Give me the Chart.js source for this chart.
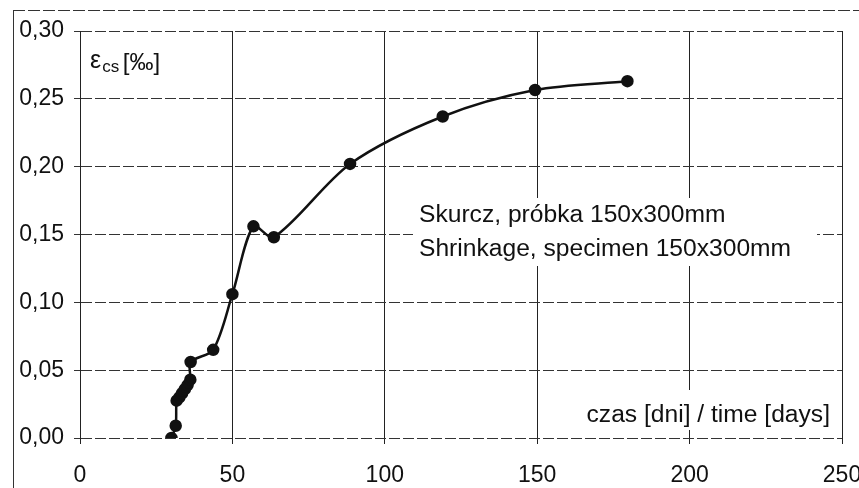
<!DOCTYPE html>
<html lang="pl">
<head>
    <meta charset="UTF-8">
    <title>Skurcz / Shrinkage</title>
    <style>
        html, body { margin: 0; padding: 0; background: #fff; }
        #wrap { width: 859px; height: 488px; position: relative; }
    </style>
</head>
<body>
    <div id="wrap"><canvas id="chart" width="859" height="488"></canvas></div>

    <script src="https://cdn.jsdelivr.net/npm/chart.js@4.4.9/dist/chart.umd.min.js"></script>
    <script>
        // time [days] and shrinkage strain [per mille]
        const days = [30.0, 31.4, 31.7, 32.6, 33.5, 34.4, 35.3, 36.2, 36.3, 43.7, 50.0, 56.9, 63.6, 88.6, 119.0, 149.3, 179.6];
        const strain = [0.000, 0.009, 0.0275, 0.030, 0.033, 0.036, 0.039, 0.043, 0.056, 0.065, 0.106, 0.156, 0.148, 0.202, 0.237, 0.2565, 0.263];

        const xTicks = [0, 50, 100, 150, 200, 250];
        const yTicks = [0, 0.05, 0.10, 0.15, 0.20, 0.25, 0.30];

        const yLabel = 'ε';
        const yLabelSub = 'cs';
        const yLabelUnit = ' [‰]';
        const noteLines = ['Skurcz, próbka 150x300mm', 'Shrinkage, specimen 150x300mm'];
        const xLabel = 'czas [dni] / time [days]';

        const FONT = '"Liberation Sans", Arial, sans-serif';
        const INK = '#111';

        // text in the scan is a bit wider than Arial, stretch it a little
        function stretchedText(ctx, text, x, y, size, align, sx) {
            ctx.save();
            ctx.font = size + 'px ' + FONT;
            const w = ctx.measureText(text).width * sx;
            const left = align === 'right' ? x - w : x;
            ctx.translate(left, y);
            ctx.scale(sx, 1);
            ctx.textAlign = 'left';
            ctx.textBaseline = 'alphabetic';
            ctx.fillStyle = INK;
            ctx.fillText(text, 0, 0);
            ctx.restore();
            return w;
        }

        const decorations = {
            id: 'decorations',
            afterDraw(chart) {
                const ctx = chart.ctx;
                const a = chart.chartArea;

                // outer frame of the scanned figure (top + left)
                ctx.save();
                ctx.strokeStyle = '#333';
                ctx.lineWidth = 1;
                ctx.setLineDash([12, 3]);
                ctx.beginPath();
                ctx.moveTo(13, 10.5);
                ctx.lineTo(859, 10.5);
                ctx.stroke();
                ctx.setLineDash([]);
                ctx.beginPath();
                ctx.moveTo(13.5, 10);
                ctx.lineTo(13.5, 488);
                ctx.stroke();
                ctx.restore();

                // axis label inside plot, top left
                ctx.save();
                ctx.fillStyle = INK;
                ctx.textBaseline = 'alphabetic';
                ctx.font = '25px ' + FONT;
                let x = a.left + 10;
                ctx.fillText(yLabel, x, a.top + 37);
                x += ctx.measureText(yLabel).width + 1;
                ctx.font = '17px ' + FONT;
                ctx.fillText(yLabelSub, x, a.top + 41);
                x += ctx.measureText(yLabelSub).width;
                ctx.font = '24px ' + FONT;
                ctx.fillText(yLabelUnit, x - 3, a.top + 39);
                ctx.restore();

                // white boxes behind the notes
                ctx.save();
                ctx.fillStyle = '#fff';
                ctx.fillRect(413, 198, 404, 68);
                ctx.fillRect(578, 390, 258, 40);
                ctx.restore();

                stretchedText(ctx, noteLines[0], 419, 222, 23, 'left', 1.07);
                stretchedText(ctx, noteLines[1], 419, 256, 23, 'left', 1.07);
                stretchedText(ctx, xLabel, a.right - 12, 422, 23, 'right', 1.07);
            }
        };

        const ctx = document.getElementById('chart').getContext('2d');
        new Chart(ctx, {
            type: 'scatter',
            data: {
                datasets: [{
                    data: days.map((d, i) => ({ x: d, y: strain[i] })),
                    showLine: true,
                    borderColor: INK,
                    backgroundColor: INK,
                    borderWidth: 2.5,
                    pointRadius: 5,
                    pointHoverRadius: 5,
                    tension: 0.3
                }]
            },
            options: {
                responsive: false,
                animation: false,
                layout: { padding: { left: 0, right: 17, top: 31, bottom: 0 } },
                plugins: {
                    legend: { display: false },
                    tooltip: { enabled: false }
                },
                scales: {
                    x: {
                        type: 'linear',
                        min: 0,
                        max: 250,
                        afterBuildTicks: s => { s.ticks = xTicks.map(v => ({ value: v })); },
                        afterFit: s => { s.height = 50; s.paddingLeft = 0; s.paddingRight = 0; },
                        grid: { color: '#222', lineWidth: 1, tickLength: 6 },
                        border: { display: false },
                        ticks: {
                            color: INK,
                            padding: 18,
                            maxRotation: 0,
                            font: { family: FONT, size: 23 },
                            callback: v => String(v)
                        }
                    },
                    y: {
                        min: 0,
                        max: 0.3,
                        afterBuildTicks: s => { s.ticks = yTicks.map(v => ({ value: v })); },
                        afterFit: s => { s.width = 80; s.paddingTop = 0; s.paddingBottom = 0; },
                        grid: { color: '#333', lineWidth: 1, tickLength: 6 },
                        border: { color: '#222', width: 1, dash: [11, 3] },
                        ticks: {
                            color: INK,
                            padding: 10,
                            font: { family: FONT, size: 23 },
                            callback: v => v.toFixed(2).replace('.', ',')
                        }
                    }
                }
            },
            plugins: [decorations]
        });
    </script>
</body>
</html>
